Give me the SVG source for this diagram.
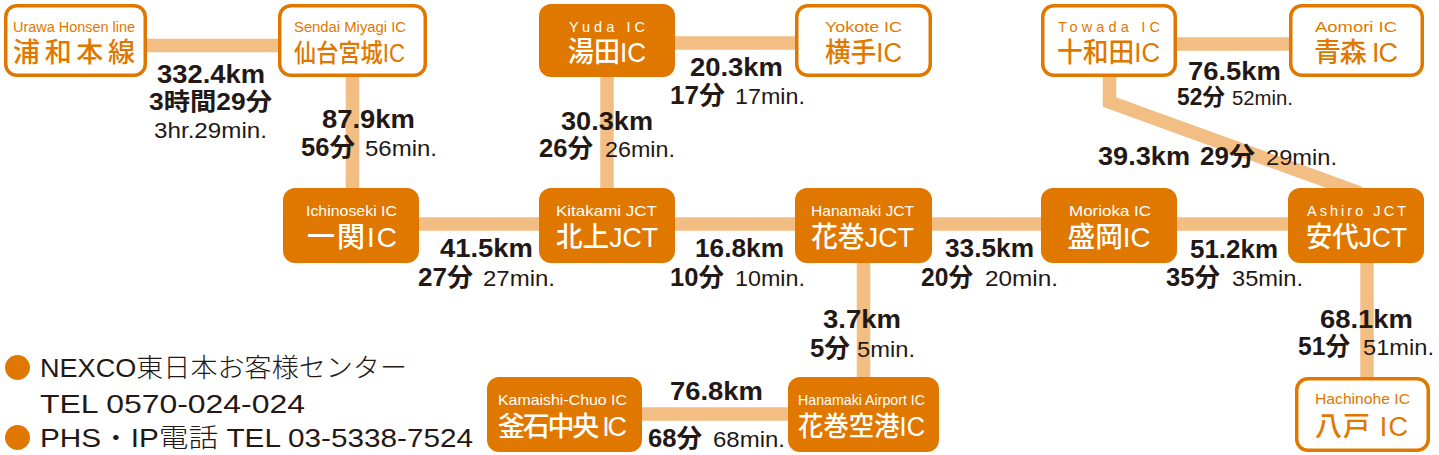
<svg xmlns="http://www.w3.org/2000/svg" width="1439" height="455" viewBox="0 0 1439 455">
<style>
.ln{stroke:#F3BE83;stroke-width:13.5;fill:none;stroke-linejoin:miter}
.nf rect{fill:#E07800}
.no rect{fill:#fff;stroke:#E07800;stroke-width:3.5}
text{font-family:"Liberation Sans","Noto Sans CJK JP",sans-serif}
.en{font-size:14.5px;font-weight:400;text-anchor:middle}
.jp{font-size:27px;font-weight:500;text-anchor:middle}
.nf text{fill:#fff}
.no text{fill:#E07800}
.b{font-size:25px;font-weight:700;fill:#231815}
.m{font-size:22px;font-weight:400;fill:#231815}
.r{font-size:22px;font-weight:400;fill:#231815}
.lg{font-size:26px;font-weight:300;fill:#231815}
.dot{fill:#E07800}
</style>
<g id="connectors">
<line class="ln" x1="146" y1="45.5" x2="279" y2="45.5"/>
<line class="ln" x1="352.5" y1="76" x2="352.5" y2="189"/>
<line class="ln" x1="674" y1="43" x2="796" y2="43"/>
<line class="ln" x1="607" y1="76" x2="607" y2="189"/>
<line class="ln" x1="1176" y1="44" x2="1290" y2="44"/>
<polyline class="ln" points="1109.5,76 1109.5,102 1360,193"/>
<line class="ln" x1="418" y1="224" x2="1289" y2="224"/>
<line class="ln" x1="863.5" y1="262" x2="863.5" y2="378"/>
<line class="ln" x1="641" y1="414" x2="789" y2="414"/>
<line class="ln" x1="1367" y1="262" x2="1367" y2="378"/>
</g>
<g id="urawa" class="no">
<rect x="5.75" y="5.75" width="139.5" height="69.5" rx="11"/>
<text class="en" x="74" y="32" textLength="122" lengthAdjust="spacingAndGlyphs">Urawa Honsen line</text>
<text class="jp" x="74" y="62" textLength="122">浦和本線</text>
</g>
<g id="sendai" class="no">
<rect x="279.75" y="5.75" width="145.5" height="69.5" rx="11"/>
<text class="en" x="350" y="32" textLength="112" lengthAdjust="spacingAndGlyphs">Sendai Miyagi IC</text>
<text class="jp" x="349.5" y="62" style="font-size:25px" textLength="111" lengthAdjust="spacingAndGlyphs">仙台宮城IC</text>
</g>
<g id="yuda" class="nf">
<rect x="539" y="4" width="136" height="73" rx="12"/>
<text class="en" x="607" y="32" textLength="76">Yuda IC</text>
<text class="jp" x="607" y="62" style="font-size:28px" textLength="78" lengthAdjust="spacingAndGlyphs">湯田IC</text>
</g>
<g id="yokote" class="no">
<rect x="796.75" y="5.75" width="133.5" height="69.5" rx="11"/>
<text class="en" x="863.5" y="32" textLength="77" lengthAdjust="spacingAndGlyphs">Yokote IC</text>
<text class="jp" x="863.5" y="62" textLength="77" lengthAdjust="spacingAndGlyphs">横手IC</text>
</g>
<g id="towada" class="no">
<rect x="1042.75" y="5.75" width="132.5" height="69.5" rx="11"/>
<text class="en" x="1109" y="32" textLength="102">Towada IC</text>
<text class="jp" x="1108.5" y="62" textLength="103" lengthAdjust="spacingAndGlyphs">十和田IC</text>
</g>
<g id="aomori" class="no">
<rect x="1290.75" y="5.75" width="131.5" height="69.5" rx="11"/>
<text class="en" x="1356" y="32" textLength="82" lengthAdjust="spacingAndGlyphs">Aomori IC</text>
<text class="jp" x="1356" y="62" textLength="84">青森 IC</text>
</g>
<g id="ichinoseki" class="nf">
<rect x="283" y="188" width="136" height="75" rx="12"/>
<text class="en" x="351.5" y="216" textLength="91" lengthAdjust="spacingAndGlyphs">Ichinoseki IC</text>
<text class="jp" x="352" y="247" style="font-size:28px" textLength="90">一関IC</text>
</g>
<g id="kitakami" class="nf">
<rect x="539" y="188" width="136" height="75" rx="12"/>
<text class="en" x="606.5" y="216" textLength="101" lengthAdjust="spacingAndGlyphs">Kitakami JCT</text>
<text class="jp" x="607" y="247" style="font-size:28px" textLength="102" lengthAdjust="spacingAndGlyphs">北上JCT</text>
</g>
<g id="hanamakijct" class="nf">
<rect x="795" y="188" width="137" height="75" rx="12"/>
<text class="en" x="862.5" y="216" textLength="103" lengthAdjust="spacingAndGlyphs">Hanamaki JCT</text>
<text class="jp" x="862.5" y="247" style="font-size:28px" textLength="103" lengthAdjust="spacingAndGlyphs">花巻JCT</text>
</g>
<g id="morioka" class="nf">
<rect x="1041" y="188" width="136" height="75" rx="12"/>
<text class="en" x="1110" y="216" textLength="82" lengthAdjust="spacingAndGlyphs">Morioka IC</text>
<text class="jp" x="1109" y="247" style="font-size:28px" textLength="83" lengthAdjust="spacingAndGlyphs">盛岡IC</text>
</g>
<g id="ashiro" class="nf">
<rect x="1288" y="188" width="136" height="75" rx="12"/>
<text class="en" x="1356.5" y="216" textLength="99">Ashiro JCT</text>
<text class="jp" x="1356.5" y="247" style="font-size:28px" textLength="101" lengthAdjust="spacingAndGlyphs">安代JCT</text>
</g>
<g id="kamaishi" class="nf">
<rect x="487" y="377" width="155" height="75" rx="12"/>
<text class="en" x="562.5" y="405" textLength="129" lengthAdjust="spacingAndGlyphs">Kamaishi-Chuo IC</text>
<text class="jp" x="562.5" y="436" textLength="129">釜石中央 IC</text>
</g>
<g id="hanamakiairport" class="nf">
<rect x="788" y="377" width="151" height="75" rx="12"/>
<text class="en" x="861.5" y="405" textLength="127" lengthAdjust="spacingAndGlyphs">Hanamaki Airport IC</text>
<text class="jp" x="861.5" y="436" textLength="127" lengthAdjust="spacingAndGlyphs">花巻空港IC</text>
</g>
<g id="hachinohe" class="no">
<rect x="1296.75" y="378.75" width="131.5" height="71.5" rx="11"/>
<text class="en" x="1362.5" y="404" textLength="95" lengthAdjust="spacingAndGlyphs">Hachinohe IC</text>
<text class="jp" x="1361.5" y="436" textLength="93">八戸 IC</text>
</g>
<g id="labels">
<text class="b" x="157" y="83" textLength="108" lengthAdjust="spacingAndGlyphs">332.4km</text>
<text class="b" x="149" y="110" style="font-size:24px" textLength="123" lengthAdjust="spacingAndGlyphs">3時間29分</text>
<text class="r" x="154" y="138" textLength="113" lengthAdjust="spacingAndGlyphs">3hr.29min.</text>
<text class="b" x="322" y="128" textLength="93" lengthAdjust="spacingAndGlyphs">87.9km</text>
<text class="b" x="301" y="156" textLength="54" lengthAdjust="spacingAndGlyphs">56分</text>
<text class="m" x="365" y="156" textLength="72" lengthAdjust="spacingAndGlyphs">56min.</text>
<text class="b" x="561" y="130" textLength="92" lengthAdjust="spacingAndGlyphs">30.3km</text>
<text class="b" x="539" y="157" textLength="54" lengthAdjust="spacingAndGlyphs">26分</text>
<text class="m" x="605" y="157" textLength="70" lengthAdjust="spacingAndGlyphs">26min.</text>
<text class="b" x="690" y="76" textLength="93" lengthAdjust="spacingAndGlyphs">20.3km</text>
<text class="b" x="670" y="104" textLength="55" lengthAdjust="spacingAndGlyphs">17分</text>
<text class="m" x="735" y="104" textLength="70" lengthAdjust="spacingAndGlyphs">17min.</text>
<text class="b" x="1188" y="80" textLength="93" lengthAdjust="spacingAndGlyphs">76.5km</text>
<text class="b" x="1177" y="105" style="font-size:23px" textLength="48" lengthAdjust="spacingAndGlyphs">52分</text>
<text class="m" x="1232" y="105" style="font-size:20px" textLength="61" lengthAdjust="spacingAndGlyphs">52min.</text>
<text class="b" x="1098" y="165" textLength="92" lengthAdjust="spacingAndGlyphs">39.3km</text>
<text class="b" x="1200" y="165" textLength="55" lengthAdjust="spacingAndGlyphs">29分</text>
<text class="m" x="1266" y="165" textLength="71" lengthAdjust="spacingAndGlyphs">29min.</text>
<text class="b" x="440" y="257" textLength="93" lengthAdjust="spacingAndGlyphs">41.5km</text>
<text class="b" x="418" y="286" textLength="55" lengthAdjust="spacingAndGlyphs">27分</text>
<text class="m" x="483" y="286" textLength="72" lengthAdjust="spacingAndGlyphs">27min.</text>
<text class="b" x="695" y="257" textLength="89" lengthAdjust="spacingAndGlyphs">16.8km</text>
<text class="b" x="670" y="286" textLength="54" lengthAdjust="spacingAndGlyphs">10分</text>
<text class="m" x="735" y="286" textLength="70" lengthAdjust="spacingAndGlyphs">10min.</text>
<text class="b" x="945" y="257" textLength="89" lengthAdjust="spacingAndGlyphs">33.5km</text>
<text class="b" x="921" y="286" textLength="52" lengthAdjust="spacingAndGlyphs">20分</text>
<text class="m" x="985" y="286" textLength="73" lengthAdjust="spacingAndGlyphs">20min.</text>
<text class="b" x="1190" y="258" textLength="88" lengthAdjust="spacingAndGlyphs">51.2km</text>
<text class="b" x="1166" y="286" textLength="54" lengthAdjust="spacingAndGlyphs">35分</text>
<text class="m" x="1232" y="286" textLength="71" lengthAdjust="spacingAndGlyphs">35min.</text>
<text class="b" x="823" y="328" textLength="78" lengthAdjust="spacingAndGlyphs">3.7km</text>
<text class="b" x="810" y="357" textLength="40" lengthAdjust="spacingAndGlyphs">5分</text>
<text class="m" x="857" y="357" textLength="58" lengthAdjust="spacingAndGlyphs">5min.</text>
<text class="b" x="670" y="400" textLength="93" lengthAdjust="spacingAndGlyphs">76.8km</text>
<text class="b" x="648" y="447" textLength="54" lengthAdjust="spacingAndGlyphs">68分</text>
<text class="m" x="713" y="447" textLength="72" lengthAdjust="spacingAndGlyphs">68min.</text>
<text class="b" x="1320" y="328" textLength="93" lengthAdjust="spacingAndGlyphs">68.1km</text>
<text class="b" x="1298" y="355" textLength="52" lengthAdjust="spacingAndGlyphs">51分</text>
<text class="m" x="1363" y="355" textLength="71" lengthAdjust="spacingAndGlyphs">51min.</text>
</g>
<g id="legend">
<circle class="dot" cx="17.5" cy="367.5" r="12.5"/>
<circle class="dot" cx="17.5" cy="437.5" r="12.5"/>
<text class="lg" x="40" y="377" textLength="367" lengthAdjust="spacingAndGlyphs">NEXCO東日本お客様センター</text>
<text class="lg" x="40" y="413" textLength="265" lengthAdjust="spacingAndGlyphs">TEL 0570-024-024</text>
<text class="lg" x="40" y="447" textLength="433" lengthAdjust="spacingAndGlyphs">PHS・IP電話 TEL 03-5338-7524</text>
</g>
</svg>
